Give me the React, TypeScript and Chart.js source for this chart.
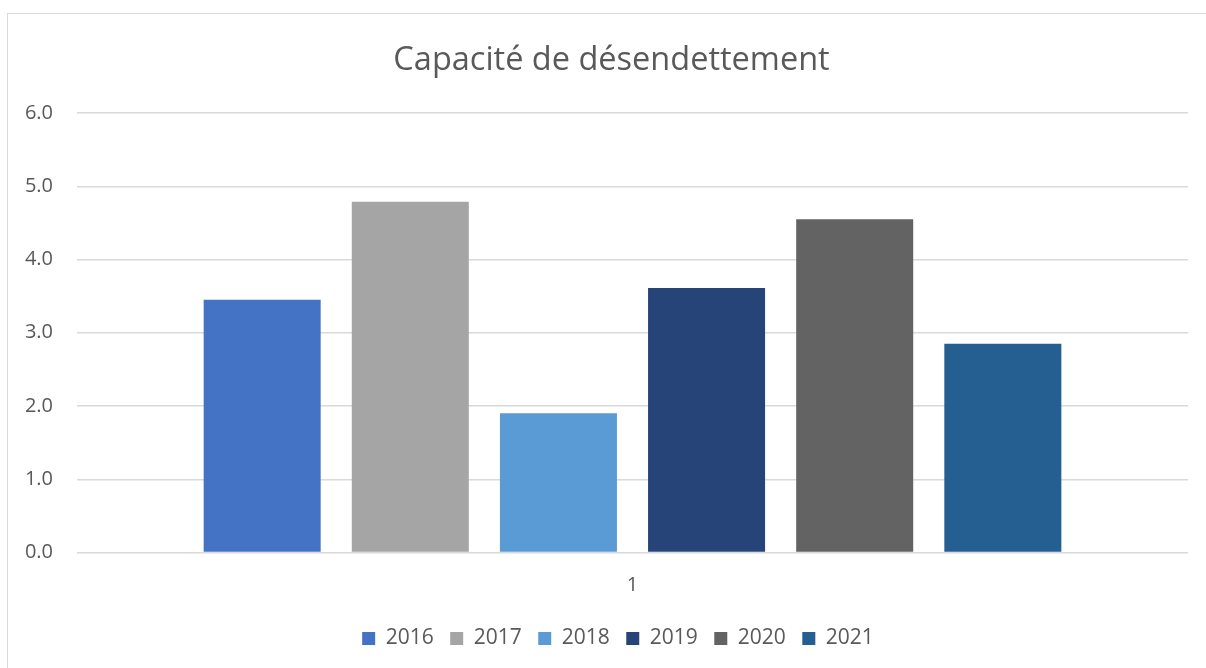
import React, { useEffect, useRef } from "react";
import { Chart, registerables } from "chart.js";

Chart.register(...registerables);

const categories = ["1"];
const seriesLabels = ["2016", "2017", "2018", "2019", "2020", "2021"];
const values2016 = [3.45];
const values2017 = [4.79];
const values2018 = [1.9];
const values2019 = [3.61];
const values2020 = [4.55];
const values2021 = [2.85];
const seriesColors = ["#4472C4", "#A5A5A5", "#5B9BD5", "#264478", "#636363", "#255E91"];
const yTicks = [0, 1, 2, 3, 4, 5, 6];

const boxNudge = {
  id: "boxNudge",
  afterLayout(chart: any) {
    const lg = chart.legend;
    if (lg) {
      lg.left += 24;
      lg.right += 24;
      lg.top += 1;
      lg.bottom += 1;
    }
    const tt = chart.titleBlock;
    if (tt) {
      tt.left += 17.5;
      tt.right += 17.5;
    }
  },
};

export default function App() {
  const ref = useRef<HTMLCanvasElement | null>(null);
  useEffect(() => {
    if (!ref.current) return;
    const seriesValues = [values2016, values2017, values2018, values2019, values2020, values2021];
    const font = "'Open Sans', Calibri, sans-serif";
    const chart = new Chart(ref.current, {
      type: "bar",
      data: {
        labels: categories,
        datasets: seriesLabels.map((l, i) => ({
          label: l,
          data: seriesValues[i],
          backgroundColor: seriesColors[i],
          borderWidth: 0,
          categoryPercentage: 0.8,
          barPercentage: 0.79,
        })),
      },
      plugins: [boxNudge],
      options: {
        animation: false,
        responsive: false,
        maintainAspectRatio: false,
        layout: { padding: { left: 0, right: 18, top: 41, bottom: 10 } },
        plugins: {
          title: {
            display: true,
            text: "Capacité de désendettement",
            color: "#595959",
            font: { family: font, size: 32.5, weight: "normal" },
            padding: { top: 0, bottom: 33 },
          },
          legend: {
            position: "bottom",
            labels: {
              color: "#595959",
              font: { family: font, size: 21 },
              boxWidth: 13,
              boxHeight: 13,
              padding: 16.5,
            },
          },
          tooltip: { enabled: false },
        },
        scales: {
          x: {
            grid: { display: false },
            border: { display: false },
            ticks: { color: "#595959", font: { family: font, size: 20, lineHeight: 0.9 }, padding: 16 },
          },
          y: {
            min: 0,
            max: 6,
            afterBuildTicks: (s: any) => {
              s.ticks = yTicks.map((v) => ({ value: v }));
            },
            afterFit: (s: any) => {
              s.width = 77;
            },
            grid: { color: "#d9d9d9", lineWidth: 1.5, drawTicks: false },
            border: { display: false },
            ticks: {
              color: "#595959",
              font: { family: font, size: 20 },
              padding: 24,
              callback: (v: any) => Number(v).toFixed(1),
            },
          },
        },
      },
    });
    return () => chart.destroy();
  }, []);
  return (
    <div style={{ position: "fixed", left: 0, top: 0, width: 1206, height: 668, background: "#fff" }}>
      <div
        style={{
          position: "absolute",
          left: 7,
          top: 13,
          width: 1300,
          height: 700,
          borderLeft: "1.5px solid #d9d9d9",
          borderTop: "1.5px solid #d9d9d9",
        }}
      />
      <canvas ref={ref} width={1206} height={668} style={{ position: "absolute", left: 0, top: 0 }} />
    </div>
  );
}
